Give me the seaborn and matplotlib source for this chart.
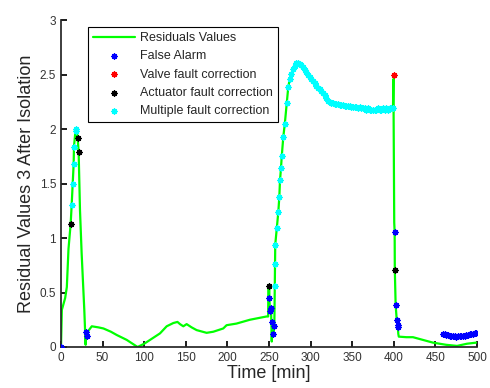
import seaborn as sns
import matplotlib.pyplot as plt

# Residual curve (time in min, residual value)
time_min = [0, 1, 5, 7, 9, 11.6, 12.8, 14, 15.2, 15.6, 17.6, 19, 20, 21.2, 22.8, 24.8, 28, 29.6,
            30, 31.6, 33, 37, 45, 51, 60, 67, 79, 86, 92, 100, 107, 119, 127, 135, 140, 143,
            147, 151, 157, 163, 175, 183, 195, 199, 211, 227, 240, 247, 249, 249.2, 250.4,
            250.4, 251.2, 252.4, 253.3, 254, 255.3, 256.4, 257, 257.2, 257.5, 259.3, 261.2,
            262.4, 263.2, 264.4, 265.3, 267.2, 269, 271.3, 273.2,
            275, 277, 279, 281, 283, 285, 287, 289, 291, 293, 295, 297, 299, 301, 303, 305,
            307, 309, 311, 313, 315, 317, 319, 321, 323, 325, 327, 329, 331, 333, 335, 337,
            339, 341, 343, 345, 347, 349, 351, 353, 355, 357, 359, 361, 363, 365, 367, 369,
            371, 373, 375, 377, 379, 381, 383, 385, 387, 389, 391, 393, 395, 397, 399,
            399.5, 400.5, 401, 401.2, 402.2, 403.5, 404.7, 405.4, 406, 415, 423, 435, 447,
            463, 476, 488, 499]
residual = [0.0, 0.34, 0.45, 0.55, 0.9, 1.13, 1.3, 1.5, 1.68, 1.84, 2.0, 1.97, 1.92, 1.79, 1.26,
            0.86, 0.34, 0.02, 0.14, 0.10, 0.15, 0.19, 0.18, 0.17, 0.14, 0.11, 0.065, 0.03, 0.0,
            0.03, 0.065, 0.125, 0.19, 0.22, 0.23, 0.21, 0.19, 0.21, 0.18, 0.155, 0.13, 0.14,
            0.17, 0.2, 0.215, 0.25, 0.27, 0.28, 0.28, 0.57, 0.56, 0.45, 0.33, 0.36, 0.05, 0.23,
            0.12, 0.19, 0.56, 0.76, 0.94, 1.09, 1.24, 1.38, 1.53, 1.64, 1.75, 1.93, 2.05, 2.24,
            2.39,
            2.46, 2.51, 2.55, 2.58, 2.61, 2.61, 2.60, 2.59, 2.57, 2.54, 2.52, 2.50, 2.48, 2.46,
            2.44, 2.42, 2.40, 2.38, 2.37, 2.35, 2.33, 2.31, 2.29, 2.26, 2.25, 2.24, 2.24, 2.23,
            2.23, 2.23, 2.22, 2.22, 2.22, 2.21, 2.21, 2.21, 2.21, 2.20, 2.20, 2.20, 2.20, 2.19,
            2.20, 2.19, 2.19, 2.19, 2.18, 2.19, 2.18, 2.18, 2.18, 2.18, 2.18, 2.19, 2.18, 2.18,
            2.19, 2.18, 2.19, 2.18, 2.19, 2.19, 2.19,
            2.46, 1.14, 1.06, 0.71, 0.385, 0.25, 0.2, 0.12, 0.095, 0.09, 0.09, 0.065, 0.04,
            0.02, 0.01, 0.03, 0.04]

# False alarm points
false_t = [0, 30, 31.6, 250.4, 251.2, 252.4, 254, 256.4, 255.3, 401, 402.2, 403.5, 404.7, 405.4,
           459, 461, 463, 465, 467, 469, 471, 473, 475, 477, 479, 481, 483, 485, 487, 489, 491,
           493, 495, 497, 499]
false_v = [0.0, 0.14, 0.10, 0.45, 0.33, 0.36, 0.23, 0.19, 0.12, 1.06, 0.385, 0.25, 0.2, 0.18,
           0.12, 0.115, 0.11, 0.11, 0.105, 0.10, 0.10, 0.10, 0.095, 0.10, 0.10, 0.10, 0.105,
           0.105, 0.11, 0.11, 0.115, 0.12, 0.12, 0.125, 0.125]

# Valve fault correction
valve_t = [399.8]
valve_v = [2.5]

# Actuator fault correction
act_t = [11.6, 20, 21.2, 250.4, 401.2]
act_v = [1.13, 1.92, 1.79, 0.56, 0.71]

# Multiple fault correction: first peak plus every sample from 257 to 399
i0, i1 = time_min.index(257), time_min.index(399) + 1
multi_t = [12.8, 14, 15.2, 15.6, 17.6, 18.5] + time_min[i0:i1]
multi_v = [1.3, 1.5, 1.68, 1.84, 2.0, 1.98] + residual[i0:i1]

sns.set_theme(style="ticks")
plt.rcParams["font.family"] = ["Liberation Sans", "DejaVu Sans"]

fig = plt.figure(figsize=(4.9, 3.88), dpi=100)
ax = fig.add_axes([0.1245, 0.1057, 0.849, 0.8423])

sns.lineplot(x=time_min, y=residual, ax=ax, color="#00ff00", linewidth=1.6,
             sort=False, estimator=None, label="Residuals Values")
marker_kw = dict(marker=(8, 2, 0), s=14, linewidth=1.1, zorder=3)
sns.scatterplot(x=false_t, y=false_v, ax=ax, color="#0000ff", edgecolor="#0000ff",
                label="False Alarm", **marker_kw)
sns.scatterplot(x=valve_t, y=valve_v, ax=ax, color="#ff0000", edgecolor="#ff0000",
                label="Valve fault correction", **marker_kw)
sns.scatterplot(x=act_t, y=act_v, ax=ax, color="black", edgecolor="black",
                label="Actuator fault correction", **marker_kw)
sns.scatterplot(x=multi_t, y=multi_v, ax=ax, color="#00ffff", edgecolor="#00ffff",
                label="Multiple fault correction", **marker_kw)

ax.set_xlim(0, 500)
ax.set_ylim(0, 3)
ax.set_xticks(range(0, 501, 50))
ax.set_yticks([0, 0.5, 1, 1.5, 2, 2.5, 3])
ax.set_yticklabels(["0", "0.5", "1", "1.5", "2", "2.5", "3"])
ax.tick_params(direction="in", length=4, labelsize=8.5, colors="black", labelcolor="#333333")
sns.despine(ax=ax)
ax.set_xlabel("Time [min]", fontsize=13, labelpad=1)
ax.set_ylabel("Residual Values 3 After Isolation", fontsize=13, labelpad=3)

leg = ax.legend(loc="upper left", bbox_to_anchor=(0.051, 0.998), fontsize=9,
                frameon=True, fancybox=False, edgecolor="black", framealpha=1,
                handlelength=3.3, labelspacing=0.5, borderpad=0.4, handletextpad=0.4)
leg.get_frame().set_linewidth(0.8)

fig.savefig("out.png", dpi=100)
